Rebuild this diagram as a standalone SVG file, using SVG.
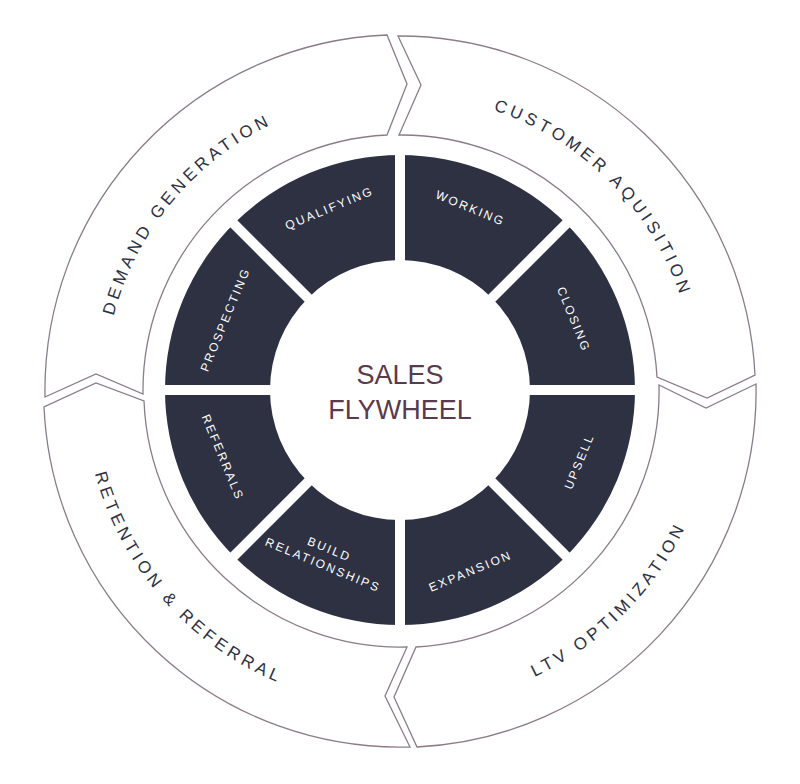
<svg xmlns="http://www.w3.org/2000/svg" width="800" height="784" viewBox="0 0 800 784">
<style>
.ring{fill:#fff;stroke:#8c7c88;stroke-width:1.3;stroke-linejoin:miter}
.ol{font-family:"Liberation Sans",Arial,sans-serif;font-size:17px;letter-spacing:4px;fill:#2d3142}
.il{font-family:"Liberation Sans",Arial,sans-serif;font-size:12px;letter-spacing:2.2px;fill:#fff;text-anchor:middle}
.ct{font-family:"Liberation Sans",Arial,sans-serif;font-size:27px;fill:#5a3a4e;text-anchor:middle}
</style>
<defs>
<path id="topArc" d="M 104,391 A 296 296 0 0 1 696,391"/>
<path id="botArc" d="M 84,391 A 316 316 0 0 0 716,391"/>
</defs>
<rect width="800" height="784" fill="#fff"/>
<g id="connectors"></g>
<g id="demand-generation">
<path class="ring" d="M45,397 L96,374 L143,394 A256 256 0 0 1 387,135 L407,84 L387,35 A356 356 0 0 0 45,397 Z"/>
<text class="ol"><textPath href="#topArc" startOffset="22%" text-anchor="middle">DEMAND GENERATION</textPath></text>
</g>
<g id="customer-acquisition">
<path class="ring" d="M398,36 L421,85 L399,135 A256 256 0 0 1 657,377 L707,398 L755,375 A356 356 0 0 0 398,36 Z"/>
<text class="ol"><textPath href="#topArc" startOffset="75%" text-anchor="middle">CUSTOMER AQUISITION</textPath></text>
</g>
<g id="ltv-optimization">
<path class="ring" d="M756,384 L706,408 L659,385 A256 256 0 0 1 416,647 L394,697 L417,747 A356 356 0 0 0 756,384 Z"/>
<text class="ol"><textPath href="#botArc" startOffset="75%" text-anchor="middle">LTV OPTIMIZATION</textPath></text>
</g>
<g id="retention-referral">
<path class="ring" d="M410,747 L385,696 L407,647 A256 256 0 0 1 144,401 L96,383 L44,407 A356 356 0 0 0 410,747 Z"/>
<text class="ol"><textPath href="#botArc" startOffset="23%" text-anchor="middle">RETENTION &amp; REFERRAL</textPath></text>
</g>
<g id="inner-ring">
<path fill="#2d3142" fill-rule="evenodd" d="M165,390 A235 235 0 1 0 635,390 A235 235 0 1 0 165,390 Z M270,390 A130 130 0 1 0 530,390 A130 130 0 1 0 270,390 Z"/>
<g stroke="#fff" stroke-width="10">
<line x1="400" y1="145" x2="400" y2="635"/>
<line x1="155" y1="390" x2="645" y2="390"/>
<line x1="227" y1="217" x2="573" y2="563"/>
<line x1="573" y1="217" x2="227" y2="563"/>
</g>
</g>
<g id="qualifying"><text class="il" transform="translate(331,212) rotate(-22.5)">QUALIFYING</text></g>
<g id="working"><text class="il" transform="translate(469,212) rotate(22.5)">WORKING</text></g>
<g id="closing"><text class="il" transform="translate(570,321) rotate(67.5)">CLOSING</text></g>
<g id="upsell"><text class="il" transform="translate(583,463) rotate(-67.5)">UPSELL</text></g>
<g id="expansion"><text class="il" transform="translate(472,575) rotate(-22.5)">EXPANSION</text></g>
<g id="build-relationships"><text class="il" transform="translate(328,553) rotate(22.5)"><tspan x="0" y="0">BUILD</tspan><tspan x="0" y="17">RELATIONSHIPS</tspan></text></g>
<g id="referrals"><text class="il" transform="translate(219,459) rotate(67.5)">REFERRALS</text></g>
<g id="prospecting"><text class="il" transform="translate(229,321) rotate(-67.5)">PROSPECTING</text></g>
<g id="center">
<text class="ct" x="400" y="384">SALES</text>
<text class="ct" x="400" y="419">FLYWHEEL</text>
</g>
</svg>
